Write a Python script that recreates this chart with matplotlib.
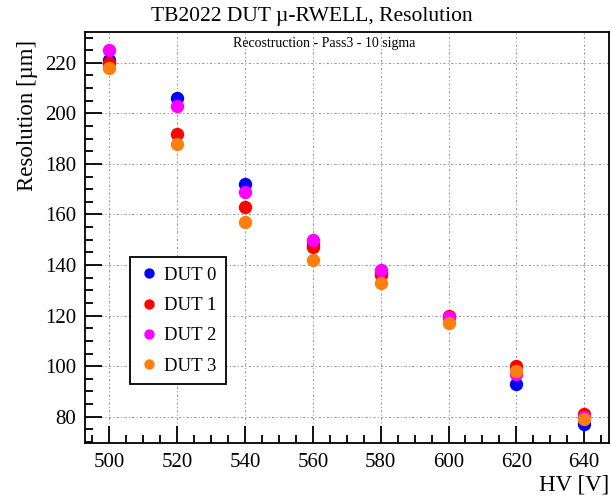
import matplotlib.pyplot as plt
from matplotlib.ticker import MultipleLocator

plt.rcParams['font.family'] = ['Liberation Serif', 'DejaVu Serif']

# tensioni
hv = [500, 520, 540, 560, 580, 600, 620, 640]

# risoluzioni
dut0 = [221, 206, 172, 148, 137, 119.5, 93, 77]
dut1 = [220, 192, 163, 147, 136, 120, 100, 81]
dut2 = [225, 203, 169, 150, 138, 119.5, 97, 80]
dut3 = [218, 188, 157, 142, 133, 117, 98, 79]

nomi = ['DUT 0', 'DUT 1', 'DUT 2', 'DUT 3']
colori = ['#0000ff', '#ff0000', '#ff00ff', '#ff7f0e']

fig = plt.figure(figsize=(6.12, 4.96), dpi=100)
ax = fig.add_axes([84.5 / 612, 1 - 443 / 496, (609 - 84.5) / 612, (443 - 31.7) / 496])

for serie, nome, col in zip([dut0, dut1, dut2, dut3], nomi, colori):
    ax.plot(hv, serie, 'o', color=col, markersize=8.6, label=nome, linestyle='none')

ax.set_xlim(492.7, 647.3)
ax.set_ylim(69.6, 232.3)
ax.xaxis.set_major_locator(MultipleLocator(20))
ax.xaxis.set_minor_locator(MultipleLocator(5))
ax.yaxis.set_major_locator(MultipleLocator(20))
ax.yaxis.set_minor_locator(MultipleLocator(5))
ax.tick_params(which='both', direction='in', top=False, right=False, labelsize=15, width=1.3)
ax.tick_params(which='major', length=12)
ax.tick_params(which='minor', length=6)
ax.tick_params(axis='x', pad=7)
ax.tick_params(axis='y', pad=6)
for s in ax.spines.values():
    s.set_linewidth(1.3)

ax.grid(True, which='major', color='#999999', linestyle=(0, (2, 2, 1, 2)), linewidth=0.8)

ax.set_xlabel('HV [V]', fontsize=16.5)
ax.set_ylabel('Resolution [µm]', fontsize=16.5)
ax.yaxis.set_label_coords(-0.108, 0.98)
ax.yaxis.label.set_va('center')
ax.yaxis.label.set_ha('right')
ax.xaxis.set_label_coords(1.0, -0.102)
ax.xaxis.label.set_ha('right')
ax.xaxis.label.set_va('center')

fig.text(0.509, 0.967, 'TB2022 DUT µ-RWELL, Resolution', ha='center', va='center', fontsize=15.5)
fig.text(0.529, 0.913, 'Recostruction - Pass3 - 10 sigma', ha='center', va='center', fontsize=10)

leg = ax.legend(loc='lower left', bbox_to_anchor=((130 - 84.5) / 524.5, (443 - 384) / 411.3),
                fontsize=13.5, fancybox=False, edgecolor='black', framealpha=1,
                handletextpad=0.3, handlelength=1.0, borderpad=0.5, labelspacing=0.7,
                markerscale=0.75, borderaxespad=0)
leg.get_frame().set_linewidth(1.3)

plt.savefig('out.png')
